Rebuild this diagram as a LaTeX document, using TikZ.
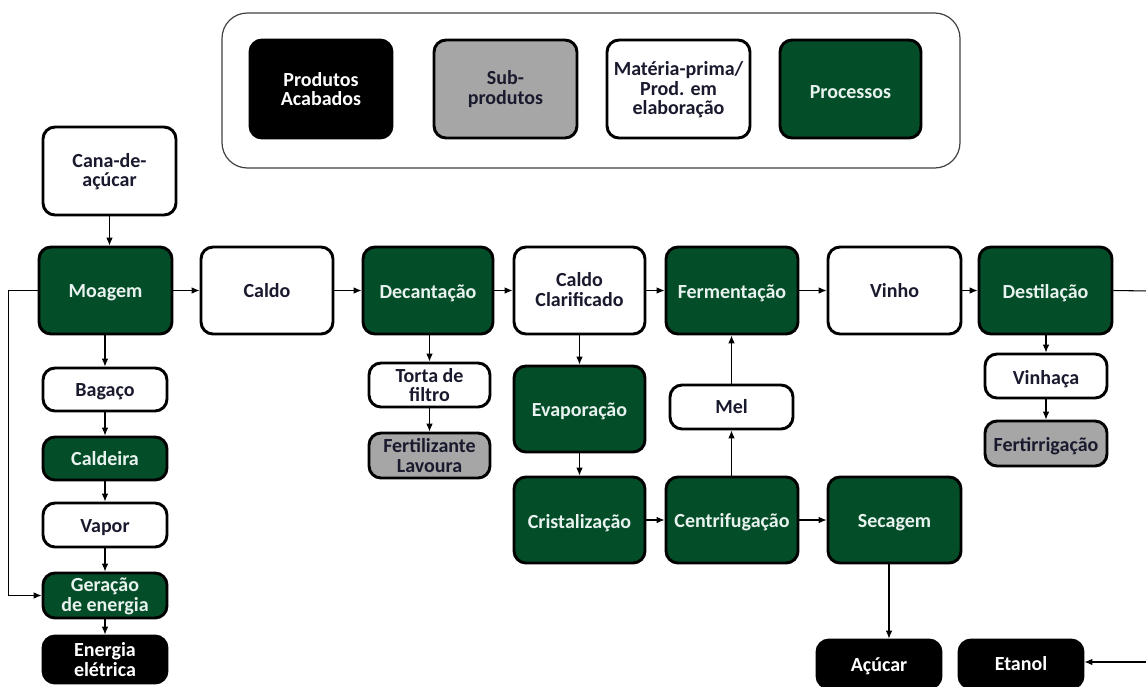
\documentclass[tikz,border=0pt]{standalone}
\usepackage{fontspec}
\setmainfont{Carlito}
\usetikzlibrary{arrows.meta}
\definecolor{procgreen}{RGB}{4,77,41}
\definecolor{proctext}{RGB}{232,242,238}
\definecolor{subgrey}{RGB}{166,166,166}
\definecolor{darktext}{RGB}{26,26,46}
\tikzset{
  box/.style args={#1/#2/#3/#4}{minimum width={(#3-#1)*0.75pt}, minimum height={(#4-#2)*0.75pt},
    at={({(#1+#3)/2},{(#2+#4)/2})}},
  base/.style={draw=black, line width=2.2pt, rounded corners=9pt, inner sep=0pt,
    align=center, font=\fontsize{15pt}{14.5pt}\selectfont\bfseries},
  proc/.style={base, fill=procgreen, text=proctext},
  mat/.style={base, fill=white, text=darktext},
  subp/.style={base, fill=subgrey, text=darktext},
  fin/.style={base, fill=black, text=white},
  arr/.style={-{Latex[length=6pt,width=5pt]}, line width=0.8pt},
  plain/.style={line width=0.8pt},
}
\newcommand{\dn}[1]{\raisebox{-2pt}[\height][\depth]{#1}}
\newcommand{\dm}[1]{\raisebox{-1.5pt}[\height][\depth]{\begin{tabular}{@{}c@{}}#1\end{tabular}}}
\begin{document}
\begin{tikzpicture}[x=0.75pt,y=-0.75pt]
\useasboundingbox (0,0) rectangle (1146,686);
\clip (0,0) rectangle (1146,686);
% legend
\node[draw=black!75, line width=0.9pt, rounded corners=19pt, inner sep=0pt, box=222/13/960/168] (legend) {};
\node[fin, box=250/40/392/138] (lfin) {Produtos\\Acabados};
\node[subp, box=434/40/577/138] (lsub) {Sub-\\produtos};
\node[mat, box=607/40/750/138] (lmat) {\dm{Matéria-prima/\\Prod. em\\elaboração}};
\node[proc, box=780/40/921/138] (lproc) {\dn{Processos}};
% main row
\node[mat, box=43/127/176/215] (cana) {\dm{Cana-de-\\açúcar}};
\node[proc, box=39/247/172/334] (moagem) {\dn{Moagem}};
\node[mat, box=201/247/333/334] (caldo) {Caldo};
\node[proc, box=363/247/493/334] (decant) {\dn{Decantação}};
\node[mat, box=514/247/645/334] (clar) {\dm{Caldo\\Clarificado}};
\node[proc, box=666/247/798/334] (ferm) {\dn{Fermentação}};
\node[mat, box=828/247/961/334] (vinho) {Vinho};
\node[proc, box=979/247/1112/334] (dest) {\dn{Destilação}};
% left column
\node[mat, box=43/368/167/411] (bagaco) {\dn{Bagaço}};
\node[proc, box=43/437/167/480] (caldeira) {Caldeira};
\node[mat, box=43/503/167/547] (vapor) {\dn{Vapor}};
\node[proc, box=43/573/167/618] (geracao) {\dm{Geração\\de energia}};
\node[fin, box=43/636/167/683] (energia) {Energia\\elétrica};
% decantation branch
\node[mat, box=369/363/490/407] (torta) {Torta de\\filtro};
\node[subp, box=369/433/490/478] (fertil) {Fertilizante\\Lavoura};
% sugar branch
\node[proc, box=514/366/645/452] (evap) {\dn{Evaporação}};
\node[proc, box=514/477/645/563] (crist) {\dn{Cristalização}};
\node[mat, box=670/385/793/429] (mel) {Mel};
\node[proc, box=666/477/798/563] (centr) {\dn{Centrifugação}};
\node[proc, box=828/477/961/563] (secagem) {\dn{Secagem}};
% distillation branch
\node[mat, box=985/354/1107/398] (vinhaca) {\dn{Vinhaça}};
\node[subp, box=985/421/1107/466] (fertirr) {\dn{Fertirrigação}};
% finished products
\node[fin, box=817/640/941/688] (acucar) {\dn{Açúcar}};
\node[fin, box=959/640/1083/688] (etanol) {Etanol};
% connectors
\draw[arr] (cana.south) -- (cana.south |- moagem.north);
\draw[arr] (moagem) -- (caldo);
\draw[arr] (caldo) -- (decant);
\draw[arr] (decant) -- (clar);
\draw[arr] (clar) -- (ferm);
\draw[arr] (ferm) -- (vinho);
\draw[arr] (vinho) -- (dest);
\coordinate (destout) at (1150,291);
\draw[plain] (dest.east) -- (destout);
\coordinate (etin) at (1150,662);
\draw[arr] (etin) -- (etin -| etanol.east);
\draw[arr] (moagem.west) -- ++(-29,0) |- (geracao.west);
\draw[arr] (bagaco.north |- moagem.south) -- (bagaco.north);
\draw[arr] (bagaco) -- (caldeira);
\draw[arr] (caldeira) -- (vapor);
\draw[arr] (vapor) -- (geracao);
\draw[arr] (geracao) -- (energia);
\draw[arr] (torta.north |- decant.south) -- (torta.north);
\draw[arr] (torta) -- (fertil);
\draw[arr] (evap.north |- clar.south) -- (evap.north);
\draw[arr] (evap) -- (crist);
\draw[arr] (crist) -- (centr);
\draw[arr] (centr) -- (secagem);
\draw[arr] (mel.south |- centr.north) -- (mel.south);
\draw[arr] (mel.north) -- (mel.north |- ferm.south);
\coordinate (sx) at (889,600);
\draw[arr] (sx |- secagem.south) -- (sx |- acucar.north);
\draw[arr] (vinhaca.north |- dest.south) -- (vinhaca.north);
\draw[arr] (vinhaca) -- (fertirr);
\end{tikzpicture}
\end{document}
